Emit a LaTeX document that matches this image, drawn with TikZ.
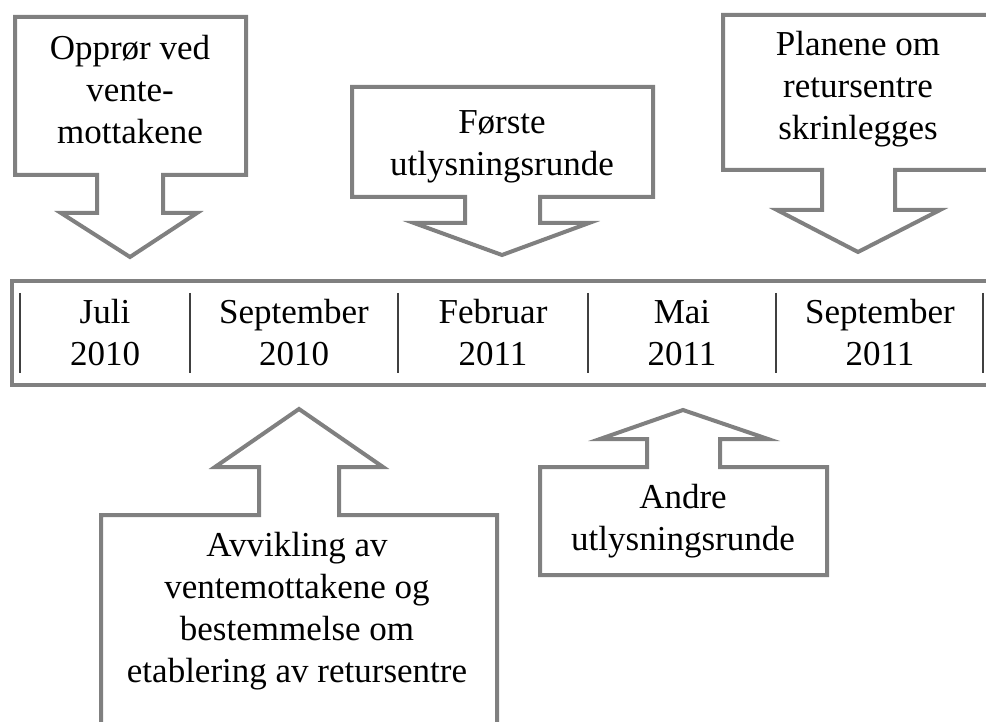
\documentclass[tikz,border=0pt]{standalone}
\usepackage{fontspec}
\setmainfont{Liberation Serif}
\usepackage{tikz}
\usetikzlibrary{positioning}
\definecolor{boxgray}{RGB}{128,128,128}
\definecolor{sepgray}{RGB}{64,64,64}
\tikzset{callout/.style={draw=boxgray, line width=4pt, fill=white}}
\tikzset{label/.style={align=center, inner sep=0pt, font=\fontsize{35}{42}\selectfont}}

\begin{document}
\begin{tikzpicture}[x=1pt,y=-1pt]
\useasboundingbox (0,0) rectangle (986,722);
\clip (0,0) rectangle (986,722);
% callouts above the time line
\draw[callout] (15,17) -- (246,17) -- (246,175) -- (163,175) -- (163,213) -- (197,213) -- (130,257) -- (61,213) -- (97,213) -- (97,175) -- (15,175) -- cycle;
\draw[callout] (352,87) -- (653,87) -- (653,197) -- (540,197) -- (540,223) -- (589,223) -- (502,255) -- (414,223) -- (465,223) -- (465,197) -- (352,197) -- cycle;
\draw[callout] (723,15) -- (994,15) -- (994,170) -- (895,170) -- (895,210) -- (940,210) -- (858,252) -- (777,210) -- (822,210) -- (822,170) -- (723,170) -- cycle;
\node[label] (oppror) at (130,90) {Opprør ved\\vente-\\mottakene};
\node[label] (forste) at (502,147.2) {Første\\utlysningsrunde};
\node[label] (planene) at (858,88.9) {Planene om\\retursentre\\skrinlegges};
% the time line
\draw[draw=boxgray, line width=4.5pt] (12,281) rectangle (1000,385);
\foreach \x in {20,190,398,588,776,983}
  \draw[sepgray, line width=1.3pt] (\x,293) -- (\x,373);
\node[label] (juli10) at (105,332.6) {Juli\\2010};
\node[label] (sep10) at (294,332.6) {September\\2010};
\node[label] (feb11) at (493,332.6) {Februar\\2011};
\node[label] (mai11) at (682,332.6) {Mai\\2011};
\node[label] (sep11) at (880,332.6) {September\\2011};
% callouts below the time line
\draw[callout] (101,740) -- (101,515) -- (259,515) -- (259,467) -- (215,467) -- (299,409) -- (383,467) -- (339,467) -- (339,515) -- (497,515) -- (497,740);
\draw[callout] (540,467) -- (647,467) -- (647,439) -- (600,439) -- (683,410) -- (768,439) -- (720,439) -- (720,467) -- (827,467) -- (827,575) -- (540,575) -- cycle;
\node[label] (avvikling) at (297,610.9) {Avvikling av\\ventemottakene og\\bestemmelse om\\etablering av retursentre};
\node[label] (andre) at (683,520.9) {Andre\\utlysningsrunde};
\end{tikzpicture}
\end{document}
